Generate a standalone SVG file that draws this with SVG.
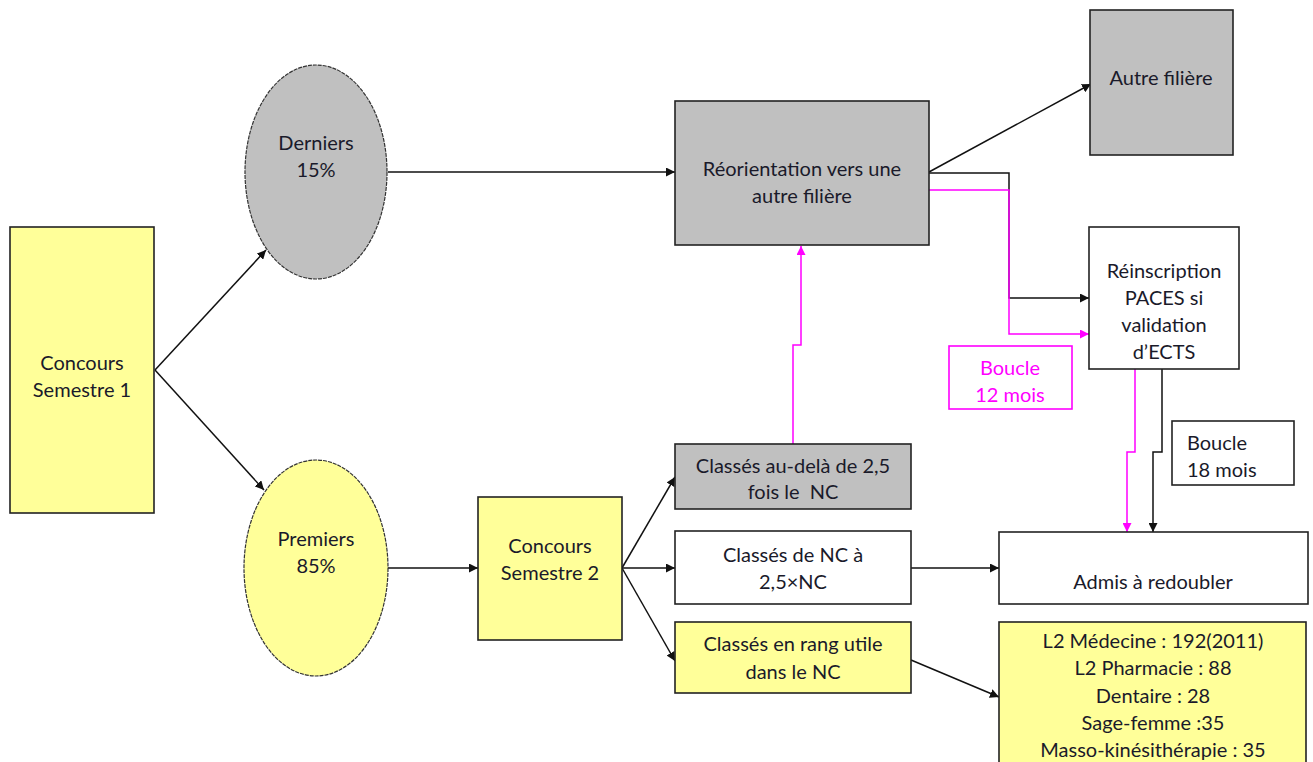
<svg xmlns="http://www.w3.org/2000/svg" width="1313" height="762" viewBox="0 0 1313 762">
<style>
.t{font-family:Lato,"Open Sans","Liberation Sans",sans-serif;font-size:20px;fill:#1a1a2a;text-anchor:middle}
.tm{fill:#ff00ff}
.tl{text-anchor:start}
.box{stroke:#222;stroke-width:1.6}
.y{fill:#ffff99}
.g{fill:#c0c0c0}
.w{fill:#fff}
.ell{stroke:#333;stroke-width:1.2;stroke-dasharray:4 1}
.c{fill:none;stroke:#111;stroke-width:1.5}
.cm{fill:none;stroke:#ff00ff;stroke-width:1.5}
</style>
<defs>
<marker id="ab" viewBox="0 0 10 10" refX="10" refY="5" markerWidth="9" markerHeight="9" markerUnits="userSpaceOnUse" orient="auto"><path d="M0,0 L10,5 L0,10 z" fill="#111"/></marker>
<marker id="am" viewBox="0 0 10 10" refX="10" refY="5" markerWidth="9" markerHeight="9" markerUnits="userSpaceOnUse" orient="auto"><path d="M0,0 L10,5 L0,10 z" fill="#ff00ff"/></marker>
</defs>
<rect width="1313" height="762" fill="#fff"/>
<g id="connectors">
<line class="c" x1="155" y1="370" x2="266" y2="250" marker-end="url(#ab)"/>
<line class="c" x1="155" y1="370" x2="264" y2="490" marker-end="url(#ab)"/>
<line class="c" x1="388" y1="172" x2="675" y2="172" marker-end="url(#ab)"/>
<line class="c" x1="929" y1="172" x2="1091" y2="84" marker-end="url(#ab)"/>
<polyline class="c" points="929,173 1009,173 1009,298 1089,298" marker-end="url(#ab)"/>
<polyline class="cm" points="929,190 1009,190 1009,334 1089,334" marker-end="url(#am)"/>
<polyline class="cm" points="1135,369 1135,452 1127,452 1127,532" marker-end="url(#am)"/>
<polyline class="c" points="1162,369 1162,452 1153,452 1153,532" marker-end="url(#ab)"/>
<polyline class="cm" points="793,444 793,345 801,345 801,246" marker-end="url(#am)"/>
<line class="c" x1="388" y1="568" x2="478" y2="568" marker-end="url(#ab)"/>
<line class="c" x1="622" y1="568" x2="675" y2="477" marker-end="url(#ab)"/>
<line class="c" x1="622" y1="568" x2="675" y2="568" marker-end="url(#ab)"/>
<line class="c" x1="622" y1="568" x2="675" y2="661" marker-end="url(#ab)"/>
<line class="c" x1="911" y1="568" x2="999" y2="568" marker-end="url(#ab)"/>
<line class="c" x1="911" y1="660" x2="999" y2="697" marker-end="url(#ab)"/>
</g>
<g id="concours1"><rect class="box y" x="10" y="227" width="144" height="286"/><text class="t" x="82" y="370">Concours</text><text class="t" x="82" y="397">Semestre 1</text></g>
<g id="derniers"><ellipse class="ell g" cx="316" cy="172" rx="71" ry="107"/><text class="t" x="316" y="150">Derniers</text><text class="t" x="316" y="177">15%</text></g>
<g id="premiers"><ellipse class="ell y" cx="316" cy="568" rx="72" ry="108"/><text class="t" x="316" y="546">Premiers</text><text class="t" x="316" y="573">85%</text></g>
<g id="reorientation"><rect class="box g" x="675" y="101" width="254" height="144"/><text class="t" x="802" y="176">Réorientation vers une</text><text class="t" x="802" y="203">autre filière</text></g>
<g id="autre"><rect class="box g" x="1090" y="10" width="143" height="145"/><text class="t" x="1161" y="85">Autre filière</text></g>
<g id="reinscription"><rect class="box w" x="1089" y="227" width="150" height="142"/><text class="t" x="1164" y="278">Réinscription</text><text class="t" x="1164" y="305">PACES si</text><text class="t" x="1164" y="332">validation</text><text class="t" x="1164" y="359">d’ECTS</text></g>
<g id="boucle12"><rect x="949" y="346" width="123" height="63" fill="#fff" stroke="#ff00ff" stroke-width="1.6"/><text class="t tm" x="1010" y="375">Boucle</text><text class="t tm" x="1010" y="402">12 mois</text></g>
<g id="boucle18"><rect class="box w" x="1172" y="421" width="122" height="64"/><text class="t tl" x="1187" y="450">Boucle</text><text class="t tl" x="1187" y="477">18 mois</text></g>
<g id="concours2"><rect class="box y" x="478" y="497" width="144" height="143"/><text class="t" x="550" y="553">Concours</text><text class="t" x="550" y="580">Semestre 2</text></g>
<g id="audela"><rect class="box g" x="675" y="444" width="236" height="65"/><text class="t" x="793" y="473">Classés au-delà de 2,5</text><text class="t" x="793" y="499">fois le&#160; NC</text></g>
<g id="nc25"><rect class="box w" x="675" y="531" width="236" height="73"/><text class="t" x="793" y="562">Classés de NC à</text><text class="t" x="793" y="589">2,5×NC</text></g>
<g id="rangutile"><rect class="box y" x="675" y="622" width="236" height="71"/><text class="t" x="793" y="651">Classés en rang utile</text><text class="t" x="793" y="679">dans le NC</text></g>
<g id="admis"><rect class="box w" x="999" y="532" width="309" height="72"/><text class="t" x="1153" y="589">Admis à redoubler</text></g>
<g id="l2"><rect class="box y" x="999" y="622" width="307" height="150"/><text class="t" x="1153" y="648">L2 Médecine : 192(2011)</text><text class="t" x="1153" y="675">L2 Pharmacie : 88</text><text class="t" x="1153" y="703">Dentaire : 28</text><text class="t" x="1153" y="730">Sage-femme :35</text><text class="t" x="1153" y="757">Masso-kinésithérapie : 35</text></g>
</svg>
